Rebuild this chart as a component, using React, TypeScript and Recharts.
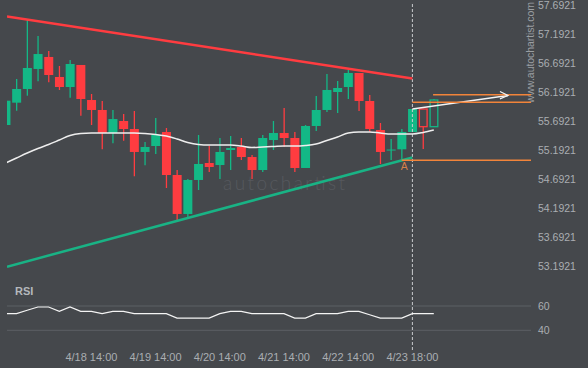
import React from 'react';
import { ComposedChart, Bar, Line, XAxis, YAxis, ReferenceLine, ReferenceDot } from 'recharts';

const candleIdx = [1,2,3,4,5,6,7,8,9,10,11,12,13,14,15,16,17,18,19,20,21,22,23,24,25,26,27,28,29,30,31,32,33,34,35,36,37,38,39,40,41];
const opens = [55.623,56.008,56.244,56.589,56.796,56.451,56.278,56.658,56.054,55.882,55.485,55.692,55.554,55.158,55.261,55.502,54.761,54.089,54.675,54.968,54.933,55.192,55.244,55.071,54.847,55.364,55.485,55.399,54.882,55.606,55.882,56.192,56.278,56.520,56.037,55.537,55.192,55.204,55.502,55.899,55.594];
const highs = [56.042,56.416,57.434,57.158,56.899,56.640,56.744,56.658,56.158,56.037,55.882,55.813,55.864,55.330,55.744,55.571,54.847,54.692,55.451,55.261,55.399,55.433,55.399,55.106,55.451,55.692,55.916,55.502,55.623,56.123,56.502,56.382,56.571,56.520,56.140,55.658,55.382,55.554,55.899,55.899,56.071];
const lows = [55.623,55.870,56.128,56.377,56.359,56.227,56.094,55.783,55.623,55.204,55.308,55.352,54.739,54.928,55.123,54.537,53.985,54.037,54.502,54.813,54.692,54.847,55.020,54.692,54.813,55.192,55.244,54.813,54.882,55.520,55.847,55.830,56.071,55.864,55.502,54.951,55.020,55.037,55.502,55.209,55.594];
const closes = [56.042,56.244,56.606,56.847,56.485,56.278,56.675,56.071,55.882,55.485,55.726,55.554,55.158,55.244,55.451,54.761,54.089,54.675,54.951,54.899,55.158,55.226,55.071,54.847,55.399,55.485,55.399,54.882,55.606,55.882,56.227,56.261,56.520,56.037,55.554,55.158,55.200,55.502,55.899,55.594,56.054];
const maValues = [54.968,55.054,55.140,55.218,55.287,55.364,55.442,55.476,55.485,55.485,55.485,55.485,55.485,55.476,55.459,55.433,55.382,55.321,55.287,55.278,55.278,55.278,55.261,55.235,55.244,55.252,55.261,55.261,55.270,55.295,55.356,55.416,55.485,55.502,55.502,55.485,55.468,55.468,55.468,55.494,55.537];
const rsiValues = [53.7,53.7,56.5,59.2,59.2,55.6,59.2,55.6,55.6,53.7,55.6,55.6,53.7,53.7,53.7,53.7,50.0,50.0,50.0,50.0,53.7,55.6,55.6,53.7,53.7,53.7,53.7,50.0,50.0,53.7,53.7,53.7,55.6,55.6,52.8,50.0,50.0,50.0,53.7,53.7,53.7];
const hollowIdx = [40, 41];

const priceTicks = [53.1921,53.6921,54.1921,54.6921,55.1921,55.6921,56.1921,56.6921,57.1921,57.6921];
const rsiTicks = [40, 60];
const timeTickIdx = [9, 15, 21, 27, 33, 39];
const timeTickLabels = ['4/18 14:00', '4/19 14:00', '4/20 14:00', '4/21 14:00', '4/22 14:00', '4/23 18:00'];

const resistanceLine = [{ x: 1.112, y: 57.494 }, { x: 39, y: 56.425 }];
const supportLine = [{ x: 1.112, y: 53.18 }, { x: 39, y: 55.063 }];
const projection = [{ x: 39, y: 55.899 }, { x: 47.93, y: 56.132 }];
const orangeLevels = [
  { from: 40.93, y: 56.146 },
  { from: 39, y: 56.015 },
  { from: 38, y: 55.015 },
];
const markerA = { x: 38, y: 55.015, text: 'A' };
const nowIdx = 39;

const X_MIN = 1.112;
const X_MAX = 50.084;

const BG = '#45484c';
const GREEN = '#13b886';
const RED = '#ff3c40';
const ORANGE = '#f2843a';
const AXIS_TXT = '#aaaeb2';
const FONT = "'Liberation Sans', Arial, sans-serif";

const priceData = candleIdx.map((i, k) => ({
  i,
  open: opens[k],
  high: highs[k],
  low: lows[k],
  close: closes[k],
  ma: maValues[k],
  rsi: rsiValues[k],
  hollow: hollowIdx.includes(i),
}));

const Candle = (props: any) => {
  const { x, y, width, height, payload } = props;
  if (!payload || x == null) return null;
  const { open, close, high, low, hollow } = payload;
  const top = Math.min(y, y + height);
  const bot = Math.max(y, y + height);
  const k = high - low > 0 ? (bot - top) / (high - low) : 0;
  const py = (v: number) => top + (high - v) * k;
  const up = close >= open;
  const color = up ? GREEN : RED;
  const cx = x + width / 2;
  const bt = py(Math.max(open, close));
  const bb = py(Math.min(open, close));
  const bh = Math.max(1, bb - bt);
  if (hollow) {
    return (
      <g>
        {bt - top > 0.5 && <line x1={cx} x2={cx} y1={top} y2={bt} stroke={color} strokeWidth={1.3} />}
        {bot - bb > 0.5 && <line x1={cx} x2={cx} y1={bb} y2={bot} stroke={color} strokeWidth={1.3} />}
        <rect x={x + 0.65} y={bt} width={width - 1.3} height={bh} fill="none" stroke={color} strokeWidth={1.3} />
      </g>
    );
  }
  return (
    <g>
      <line x1={cx} x2={cx} y1={top} y2={bot} stroke={color} strokeWidth={1.3} />
      <rect x={x} y={bt} width={width} height={bh} fill={color} />
    </g>
  );
};

const Chevron = (props: any) => {
  const { cx, cy } = props;
  if (cx == null) return null;
  return (
    <path d={`M${cx - 8},${cy - 4} L${cx},${cy} L${cx - 8},${cy + 3.4}`} fill="none" stroke="#f4f4f4" strokeWidth={1.2} />
  );
};

const ALabel = (props: any) => {
  const { cx, cy } = props;
  if (cx == null) return null;
  return (
    <text x={cx + 2.6} y={cy + 9.8} textAnchor="middle" fill="#d8804a" fontSize={10.5} fontFamily={FONT}>
      {markerA.text}
    </text>
  );
};

export default function App() {
  return (
    <div style={{ position: 'fixed', left: 0, top: 0, width: 588, height: 368, background: BG, fontFamily: FONT, overflow: 'hidden' }}>
      <svg width={588} height={368} style={{ position: 'absolute', left: 0, top: 0 }}>
        <text x={223} y={190} fill="#56595e" fontSize={19} fontFamily="Lato, 'DejaVu Sans', sans-serif" fontWeight={300} textLength={122} lengthAdjust="spacing">
          autochartist
        </text>
        <text transform="translate(533.5,103) rotate(-90)" fill="#9a9ea2" fontSize={10.5} fontFamily={FONT} textLength={101} lengthAdjust="spacing">
          www.autochartist.com
        </text>
        <text x={15} y={295} fill="#b4b8bc" fontSize={11} fontWeight="bold" fontFamily={FONT}>
          RSI
        </text>
      </svg>
      <div style={{ position: 'absolute', left: 0, top: 0 }}>
        <ComposedChart width={588} height={272} data={priceData} margin={{ top: 4, right: 0, bottom: 0, left: 7 }}>
          <XAxis type="number" dataKey="i" domain={[X_MIN, X_MAX]} hide allowDataOverflow />
          <YAxis
            orientation="right"
            width={57}
            domain={[53.0886, 57.7093]}
            ticks={priceTicks}
            interval={0}
            allowDataOverflow
            axisLine={false}
            tickLine={false}
            tickSize={0}
            tickMargin={7}
            tick={{ fill: AXIS_TXT, fontSize: 10.5, fontFamily: FONT, textAnchor: 'start' }}
            tickFormatter={(v: number) => v.toFixed(4)}
          />
          <ReferenceLine x={nowIdx} stroke="#c9cbcd" strokeDasharray="3 2" strokeWidth={1} ifOverflow="hidden" />
          <Bar dataKey={(d: any) => [d.low, d.high]} barSize={9} shape={Candle} isAnimationActive={false} />
          <Line type="monotone" dataKey="ma" stroke="#eeeeee" strokeWidth={1.5} dot={false} activeDot={false} isAnimationActive={false} />
          <ReferenceLine segment={resistanceLine} stroke={RED} strokeWidth={2.5} ifOverflow="hidden" />
          <ReferenceLine segment={supportLine} stroke="#19b385" strokeWidth={2.5} ifOverflow="hidden" />
          <ReferenceLine segment={projection} stroke="#f4f4f4" strokeWidth={1.3} ifOverflow="hidden" />
          <ReferenceDot x={projection[1].x} y={projection[1].y} r={0} shape={Chevron} ifOverflow="visible" />
          {orangeLevels.map((o, k) => (
            <ReferenceLine key={k} segment={[{ x: o.from, y: o.y }, { x: X_MAX, y: o.y }]} stroke={ORANGE} strokeWidth={1.5} ifOverflow="hidden" />
          ))}
          <ReferenceDot x={markerA.x} y={markerA.y} r={0} shape={ALabel} ifOverflow="visible" />
        </ComposedChart>
      </div>
      <div style={{ position: 'absolute', left: 0, top: 272 }}>
        <ComposedChart width={588} height={96} data={priceData} margin={{ top: 0, right: 0, bottom: 0, left: 7 }}>
          <XAxis
            type="number"
            dataKey="i"
            domain={[X_MIN, X_MAX]}
            allowDataOverflow
            ticks={timeTickIdx}
            interval={0}
            height={18}
            axisLine={false}
            tickLine={false}
            tickSize={0}
            tickMargin={3}
            tick={{ fill: AXIS_TXT, fontSize: 11, fontFamily: FONT }}
            tickFormatter={(v: number) => timeTickLabels[timeTickIdx.indexOf(v)] ?? ''}
          />
          <YAxis
            orientation="right"
            width={57}
            domain={[23.8, 87.98]}
            ticks={rsiTicks}
            interval={0}
            allowDataOverflow
            axisLine={false}
            tickLine={false}
            tickSize={0}
            tickMargin={7}
            tick={{ fill: AXIS_TXT, fontSize: 10.5, fontFamily: FONT, textAnchor: 'start' }}
          />
          {rsiTicks.map((t) => (
            <ReferenceLine key={t} y={t} stroke="#5c6064" strokeWidth={1} />
          ))}
          <ReferenceLine x={nowIdx} stroke="#c9cbcd" strokeDasharray="3 2" strokeWidth={1} ifOverflow="hidden" />
          <Line type="linear" dataKey="rsi" stroke="#f4f4f4" strokeWidth={1.2} dot={false} activeDot={false} isAnimationActive={false} />
        </ComposedChart>
      </div>
    </div>
  );
}
